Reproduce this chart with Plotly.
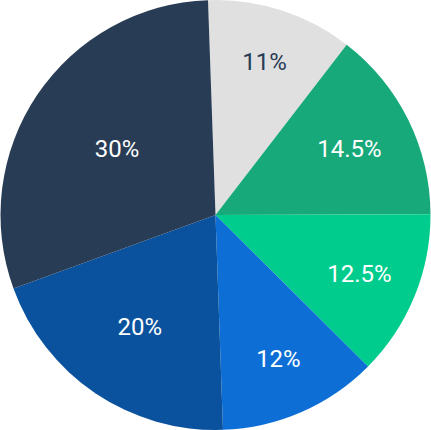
import plotly.graph_objects as go

labels = ["A", "B", "C", "D", "E", "F"]
values = [11, 14.5, 12.5, 12, 20, 30]
colors = ["#e0e0e0", "#18a97a", "#00cd8d", "#0d6fd6", "#0b529e", "#283d55"]
text_colors = ["#283d55", "white", "white", "white", "white", "white"]

fig = go.Figure(go.Pie(
    labels=labels,
    values=values,
    sort=False,
    direction="clockwise",
    rotation=-2,
    marker=dict(colors=colors, line=dict(width=0)),
    texttemplate="%{value}%",
    textposition="inside",
    insidetextorientation="horizontal",
    textfont=dict(family="Roboto", size=24, color=text_colors),
    hoverinfo="none",
))
fig.update_layout(
    width=431, height=430,
    margin=dict(l=0, r=0, t=0, b=0),
    showlegend=False,
    paper_bgcolor="white",
)
# page body has an 8px default margin, drop it so the pie fills the window
fig.write_html("out.html", config={"displayModeBar": False},
               post_script="document.body.style.margin='0';")
